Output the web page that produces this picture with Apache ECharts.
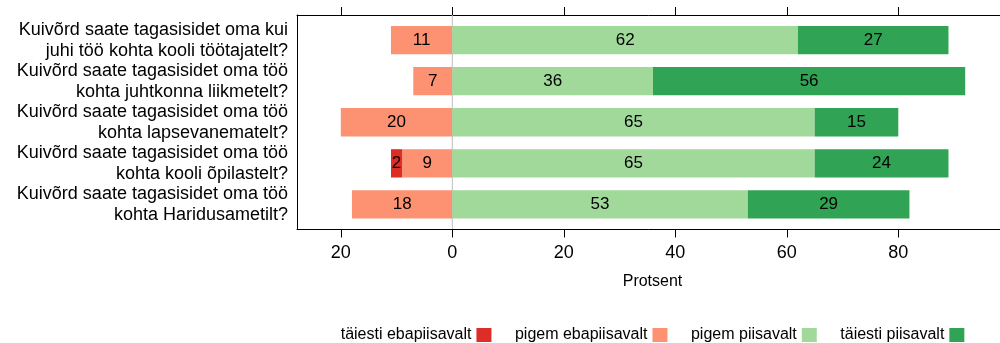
<!DOCTYPE html>
<html>
<head>
<meta charset="utf-8">
<script src="https://cdn.jsdelivr.net/npm/echarts@6/dist/echarts.min.js"></script>
<style>
html,body{margin:0;padding:0;background:#fff;}
#chart{width:1000px;height:343px;}
</style>
</head>
<body>
<div id="chart"></div>
<script>
const categories = [
  "Kuivõrd saate tagasisidet oma kui\njuhi töö kohta kooli töötajatelt?",
  "Kuivõrd saate tagasisidet oma töö\nkohta juhtkonna liikmetelt?",
  "Kuivõrd saate tagasisidet oma töö\nkohta lapsevanematelt?",
  "Kuivõrd saate tagasisidet oma töö\nkohta kooli õpilastelt?",
  "Kuivõrd saate tagasisidet oma töö\nkohta Haridusametilt?"
];
const seriesNames = ["täiesti ebapiisavalt", "pigem ebapiisavalt", "pigem piisavalt", "täiesti piisavalt"];
const taiestiEbapiisavalt = [null, null, null, 2, null];
const pigemEbapiisavalt = [11, 7, 20, 9, 18];
const pigemPiisavalt = [62, 36, 65, 65, 53];
const taiestiPiisavalt = [27, 56, 15, 24, 29];
const tickValues = [-20, 0, 20, 40, 60, 80];
const xTitle = "Protsent";

const colors = ["#DE2D26", "#FC9272", "#A1D99B", "#31A354"];
const FONT = "'Liberation Sans', Arial, Helvetica, sans-serif";
const XMIN = -27.86, XMAX = 99.68;
const LEFT = 297, WIDTH = 711;

const neg = a => a.map(v => v == null ? null : -v);

const labelCfg = {
  show: true, position: 'inside', color: '#000', fontSize: 17, fontFamily: FONT,
  formatter: p => p.value == null ? '' : Math.abs(p.value)
};

function barSeries(name, data, color) {
  return {
    name, type: 'bar', stack: 'total', data, xAxisIndex: 0, yAxisIndex: 0,
    barWidth: 28.3, itemStyle: { color }, label: labelCfg, z: 3,
    emphasis: { disabled: true }
  };
}

const chart = echarts.init(document.getElementById('chart'), null, { renderer: 'canvas' });
chart.setOption({
  animation: false,
  backgroundColor: '#fff',
  textStyle: { fontFamily: FONT },
  grid: [
    { left: LEFT, top: 19.5, width: WIDTH, height: 205.5, containLabel: false, outerBoundsMode: 'none' },
    { left: LEFT, top: 15, width: WIDTH, height: 214, containLabel: false, outerBoundsMode: 'none' }
  ],
  xAxis: [
    { type: 'value', gridIndex: 0, min: XMIN, max: XMAX, show: false },
    { type: 'value', gridIndex: 1, min: XMIN, max: XMAX, position: 'bottom',
      axisLine: { show: true, onZero: false, lineStyle: { color: '#000', width: 1 } },
      axisTick: { show: true, length: 8.5, customValues: tickValues, lineStyle: { color: '#000' } },
      axisLabel: { show: true, customValues: tickValues, formatter: v => Math.abs(v),
        fontSize: 18, color: '#000', fontFamily: FONT, margin: 15 },
      splitLine: { show: false },
      name: xTitle, nameLocation: 'middle', nameGap: 45,
      nameTextStyle: { fontSize: 16, color: '#000', fontFamily: FONT }
    },
    { type: 'value', gridIndex: 1, min: XMIN, max: XMAX, position: 'top',
      axisLine: { show: true, onZero: false, lineStyle: { color: '#000', width: 1 } },
      axisTick: { show: true, length: 8, customValues: tickValues, lineStyle: { color: '#000' } },
      axisLabel: { show: false },
      splitLine: { show: false }
    }
  ],
  yAxis: [
    { type: 'category', gridIndex: 0, data: categories, inverse: true,
      axisLine: { show: false }, axisTick: { show: false },
      axisLabel: { interval: 0, fontSize: 18, lineHeight: 21, color: '#000', fontFamily: FONT, margin: 9, align: 'right' }
    },
    { type: 'value', gridIndex: 1, min: 0, max: 1, position: 'left',
      axisLine: { show: true, onZero: false, lineStyle: { color: '#000', width: 1 } },
      axisTick: { show: false }, axisLabel: { show: false }, splitLine: { show: false }
    }
  ],
  legend: {
    data: seriesNames,
    left: 340.7, top: 327, align: 'right', padding: 0,
    itemWidth: 15, itemHeight: 14, itemGap: 23.5,
    icon: 'rect',
    textStyle: { fontSize: 16, color: '#000', fontFamily: FONT },
    selectedMode: false
  },
  series: [
    {
      name: 'zero', type: 'line', xAxisIndex: 1, yAxisIndex: 1,
      data: [[0, 0], [0, 1]], symbol: 'none', silent: true, z: 1,
      lineStyle: { color: '#BEBEBE', width: 1 }
    },
    barSeries(seriesNames[1], neg(pigemEbapiisavalt), colors[1]),
    barSeries(seriesNames[0], neg(taiestiEbapiisavalt), colors[0]),
    barSeries(seriesNames[2], pigemPiisavalt, colors[2]),
    barSeries(seriesNames[3], taiestiPiisavalt, colors[3])
  ]
});
</script>
</body>
</html>
